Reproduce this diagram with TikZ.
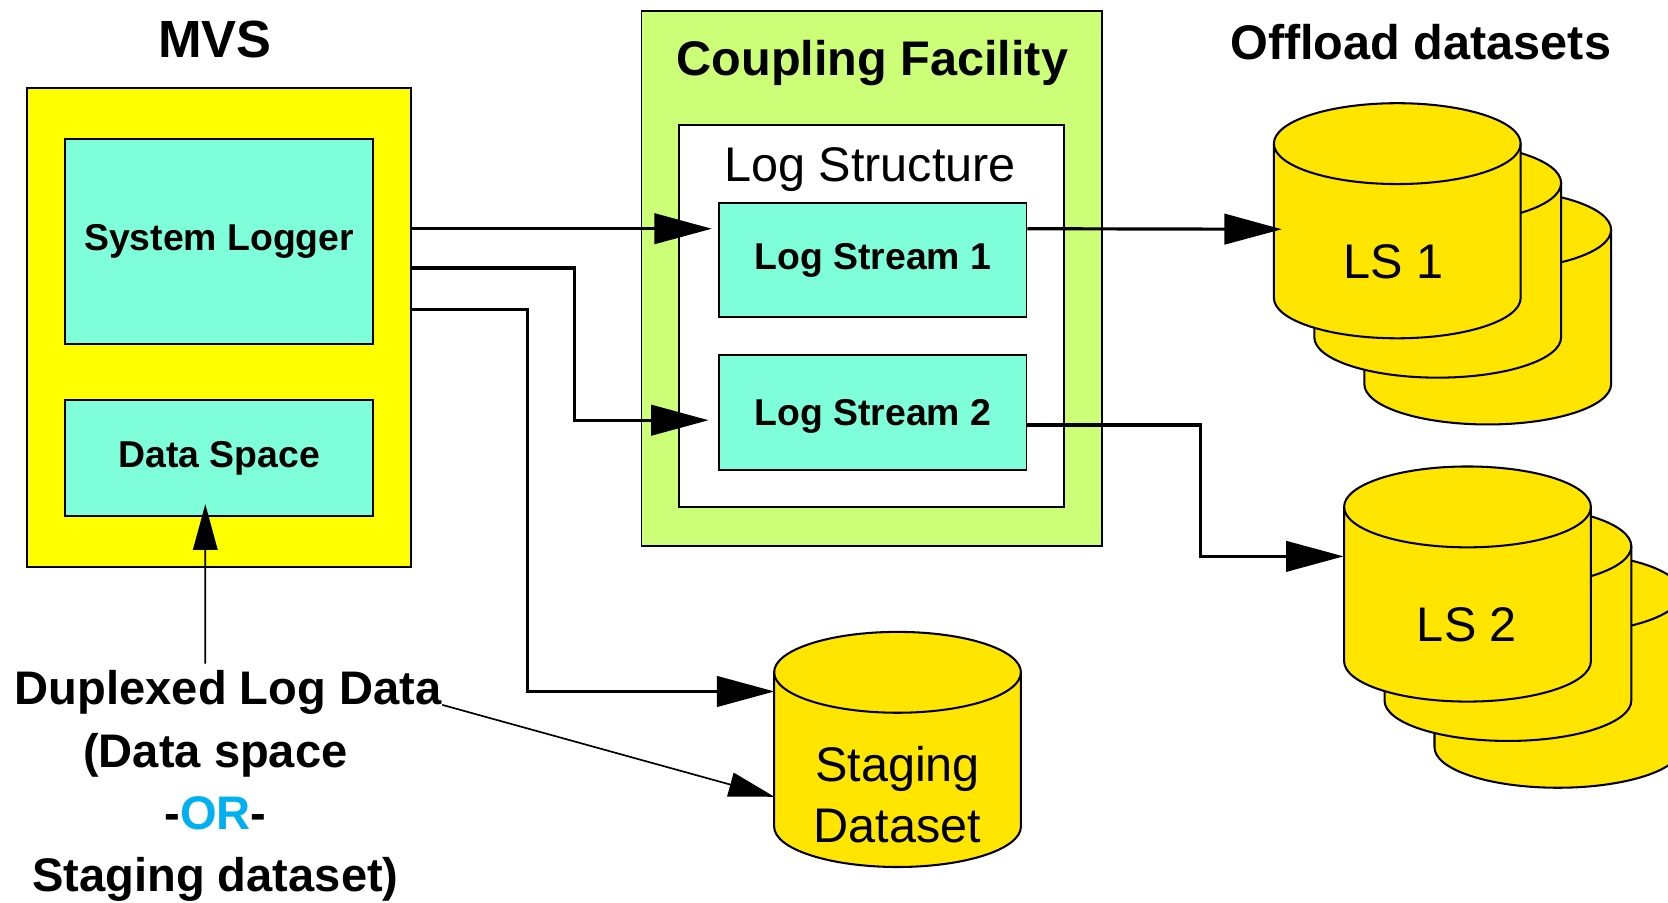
\documentclass[tikz,border=0pt]{standalone}
\usepackage{fontspec}
\setmainfont{Liberation Sans}
\usepackage{tikz}
\usetikzlibrary{
	positioning,
	arrows.meta
}

\definecolor{mvsyellow}{HTML}{FFFF00}
\definecolor{aqua}{HTML}{7FFFD9}
\definecolor{cfgreen}{HTML}{CCFF77}
\definecolor{diskgold}{HTML}{FFE500}
\definecolor{orblue}{HTML}{00B0F0}

\tikzset{
	box/.style={draw,line width=0.5pt,inner sep=0pt},
	heading/.style={font=\fontsize{13}{16}\selectfont\bfseries,inner sep=0pt},
	boxtext/.style={font=\fontsize{10}{12}\selectfont\bfseries},
	big/.style={font=\fontsize{13}{16.5}\selectfont,inner sep=0pt,align=center},
	note/.style={font=\fontsize{12.6}{16.6}\selectfont\bfseries,inner sep=0pt,align=center},
	flow/.style={line width=0.85pt,-{Triangle[length=0.54cm,width=0.285cm]}},
	thinflow/.style={line width=0.45pt,-{Triangle[length=0.43cm,width=0.23cm]}},
	disk/.pic={
		\filldraw[fill=diskgold,line width=0.55pt] (-1.16,0) -- (-1.16,-1.45)
			arc[start angle=180,end angle=360,x radius=1.16,y radius=0.38]
			-- (1.16,0) arc[start angle=0,end angle=180,x radius=1.16,y radius=0.38] -- cycle;
		\draw[line width=0.55pt] (-1.16,0) arc[start angle=180,end angle=360,x radius=1.16,y radius=0.38];
	}
}

\begin{document}
\begin{tikzpicture}
	\useasboundingbox (0,0) rectangle (15.68,-8.48);
	\clip (0,0) rectangle (15.68,-8.48);

	% MVS
	\node[heading,font=\fontsize{14}{16}\selectfont\bfseries,anchor=base] (mvs) at (2.02,-0.54) {MVS};
	\node[box,fill=mvsyellow,minimum width=3.61cm,minimum height=4.50cm] (mvsbox) at (2.055,-3.08) {};
	\node[box,fill=aqua,minimum width=2.90cm,minimum height=1.92cm,boxtext] (syslog) at (2.06,-2.27) {System Logger};
	\node[box,fill=aqua,minimum width=2.90cm,minimum height=1.09cm,boxtext] (dspace) at (2.06,-4.305) {Data Space};

	% coupling facility
	\node[box,fill=cfgreen,minimum width=4.33cm,minimum height=5.03cm] (cf) at (8.195,-2.615) {};
	\node[heading,anchor=base] (cftitle) at (8.20,-0.705) {Coupling Facility};
	\node[box,fill=white,minimum width=3.62cm,minimum height=3.59cm] (logstruct) at (8.19,-2.97) {};
	\node[big,anchor=base] (lstitle) at (8.18,-1.71) {Log Structure};
	\node[box,fill=aqua,minimum width=2.89cm,minimum height=1.07cm,boxtext] (stream1) at (8.205,-2.445) {Log Stream 1};
	\node[box,fill=aqua,minimum width=2.89cm,minimum height=1.08cm,boxtext,text depth=0pt] (stream2) at (8.205,-3.88) {Log Stream 2};

	% offload datasets
	\node[heading,anchor=base] (offload) at (13.355,-0.558) {Offload datasets};
	\pic at (13.985,-2.16) {disk};
	\pic at (13.515,-1.72) {disk};
	\pic at (13.135,-1.35) {disk};
	\node[big,anchor=base] (ls1) at (13.10,-2.616) {LS 1};
	\pic at (14.645,-5.575) {disk};
	\pic at (14.175,-5.135) {disk};
	\pic at (13.795,-4.765) {disk};
	\node[big,anchor=base] (ls2) at (13.79,-6.03) {LS 2};

	% staging dataset
	\pic at (8.437,-6.32) {disk};
	\node[big] (stage) at (8.437,-7.47) {Staging\\Dataset};

	\coordinate (ls1in) at (12.05,-2.155);
	\coordinate (ls2in) at (12.63,-5.23);
	\coordinate (stagein) at (7.28,-6.50);
	\coordinate (dupin) at (7.28,-7.49);

	% duplex note
	\node[note,anchor=base] (dupl) at (2.145,-6.626) {Duplexed Log Data};
	\node[note,below=0.16cm of dupl,xshift=-0.12cm] (dupl2) {(Data space\\-\textcolor{orblue}{OR}-\\Staging dataset)};

	% connectors
	\draw[flow] ([yshift=0.93cm]mvsbox.east) -- ([yshift=0.295cm,xshift=-0.06cm]stream1.west);
	\draw[flow] ([yshift=0.56cm]mvsbox.east) -- ++(1.53,0) |- ([yshift=-0.07cm,xshift=-0.09cm]stream2.west);
	\draw[flow] ([yshift=0.17cm]mvsbox.east) -- ++(1.09,0) |- (stagein);
	\draw[flow] ([yshift=0.295cm]stream1.east) -- (ls1in);
	\draw[flow] ([yshift=-0.115cm]stream2.east) -- ++(1.63,0) |- (ls2in);
	\draw[thinflow] ([xshift=-0.215cm,yshift=0.06cm]dupl.north) -- ([xshift=-0.13cm,yshift=0.12cm]dspace.south);
	\draw[thinflow] (dupl.base east) -- (dupin);
\end{tikzpicture}
\end{document}
